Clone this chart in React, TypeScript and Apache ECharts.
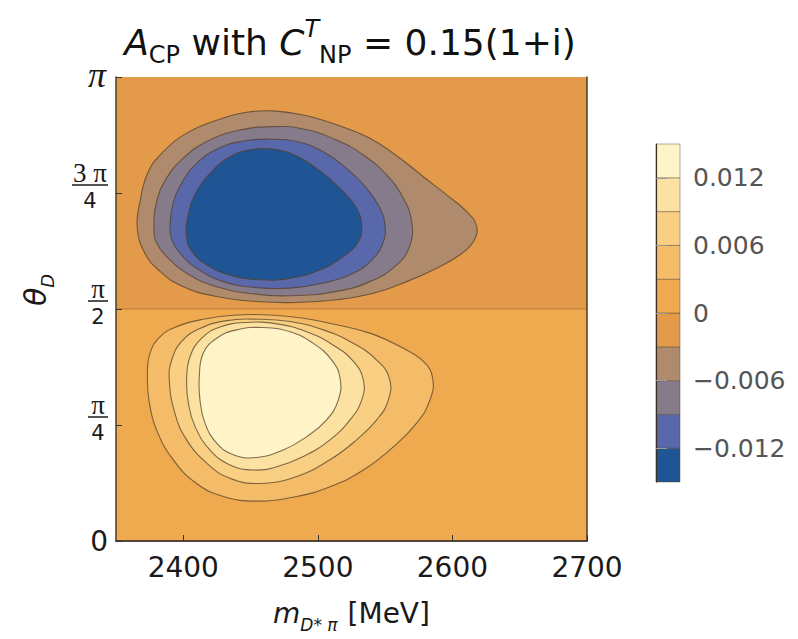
import React, { useEffect, useRef } from "react";
import * as echarts from "echarts";

// ---------- axes ----------
const X_MIN = 2350;
const X_MAX = 2700;
const X_TICKS = [2400, 2500, 2600, 2700];
// θ_D expressed in units of π
const Y_MIN = 0;
const Y_MAX = 1;
const Y_TICKS = [0, 0.25, 0.5, 0.75, 1];
const Y_TICK_NUM = ["0", "π", "π", "3 π", "π"];
const Y_TICK_DEN = ["", "4", "2", "4", ""];

// ---------- colour bar ----------
const LEVELS = [-0.015, -0.012, -0.009, -0.006, -0.003, 0, 0.003, 0.006, 0.009, 0.012, 0.015];
const BAND_COLORS = [
  "#1f5595",
  "#5868ab",
  "#857b8b",
  "#b08a6d",
  "#e39a4a",
  "#efa94f",
  "#f4bc68",
  "#f8cf83",
  "#fbe2a2",
  "#fef4c8",
];
const BAR_TICKS = [-0.012, -0.006, 0, 0.006, 0.012];

// ---------- background halves (band index into BAND_COLORS) ----------
const HALVES = [
  { from: 0.5, to: 1, band: 4 },
  { from: 0, to: 0.5, band: 5 },
];

// ---------- contour lines [m (MeV), θ/π] ----------
const C_NEG_003 = [
  [2365.8, 0.674], [2367.8, 0.731], [2374.0, 0.796], [2385.2, 0.839], [2402.5, 0.879],
  [2424.8, 0.907], [2447.1, 0.924], [2466.9, 0.927], [2489.2, 0.918], [2514.0, 0.897],
  [2538.7, 0.868], [2561.0, 0.825], [2578.4, 0.785], [2595.7, 0.746], [2610.6, 0.710],
  [2618.0, 0.678], [2615.5, 0.645], [2605.6, 0.617], [2588.3, 0.588], [2566.0, 0.559],
  [2541.2, 0.534], [2514.0, 0.520], [2484.3, 0.514], [2454.5, 0.516], [2424.8, 0.527],
  [2400.0, 0.548], [2382.7, 0.581], [2371.5, 0.620],
];
const C_NEG_006 = [
  [2378.2, 0.674], [2380.2, 0.731], [2387.6, 0.782], [2400.0, 0.825], [2417.4, 0.861],
  [2439.7, 0.884], [2464.4, 0.893], [2489.2, 0.888], [2514.0, 0.864], [2533.8, 0.832],
  [2551.1, 0.789], [2563.5, 0.739], [2569.7, 0.688], [2568.5, 0.638], [2558.6, 0.595],
  [2538.7, 0.559], [2514.0, 0.538], [2484.3, 0.529], [2454.5, 0.532], [2424.8, 0.548],
  [2402.5, 0.577], [2387.6, 0.613], [2380.2, 0.642],
];
const C_NEG_009 = [
  [2390.1, 0.674], [2392.1, 0.724], [2398.8, 0.771], [2409.9, 0.814], [2426.0, 0.846],
  [2444.6, 0.862], [2464.4, 0.866], [2484.3, 0.861], [2504.1, 0.839], [2521.4, 0.803],
  [2536.3, 0.760], [2546.2, 0.717], [2549.9, 0.681], [2548.7, 0.645], [2541.2, 0.609],
  [2526.4, 0.577], [2504.1, 0.556], [2479.3, 0.545], [2454.5, 0.546], [2429.8, 0.559],
  [2409.9, 0.588], [2397.6, 0.620], [2391.4, 0.649],
];
const C_NEG_012 = [
  [2402.5, 0.652], [2403.7, 0.703], [2409.9, 0.753], [2421.1, 0.796], [2434.7, 0.828],
  [2449.6, 0.843], [2464.4, 0.845], [2479.3, 0.836], [2499.1, 0.803], [2516.5, 0.760],
  [2528.8, 0.717], [2532.6, 0.678], [2530.1, 0.645], [2518.9, 0.613], [2501.6, 0.584],
  [2479.3, 0.566], [2457.0, 0.563], [2434.7, 0.573], [2417.4, 0.595], [2407.5, 0.620],
];
const C_POS_003 = [
  [2373.3, 0.354], [2375.3, 0.405], [2382.7, 0.440], [2395.1, 0.462], [2414.9, 0.478],
  [2439.7, 0.487], [2464.4, 0.487], [2489.2, 0.480], [2514.0, 0.466], [2538.7, 0.448],
  [2561.0, 0.419], [2578.4, 0.387], [2585.3, 0.351], [2583.3, 0.304], [2573.4, 0.254],
  [2556.1, 0.203], [2533.8, 0.153], [2509.0, 0.117], [2484.3, 0.096], [2454.5, 0.086],
  [2429.8, 0.096], [2409.9, 0.124], [2392.6, 0.175], [2380.2, 0.239], [2374.8, 0.297],
];
const C_POS_006 = [
  [2389.6, 0.347], [2391.4, 0.390], [2398.8, 0.430], [2412.4, 0.458], [2432.2, 0.475],
  [2454.5, 0.478], [2479.3, 0.473], [2504.1, 0.455], [2526.4, 0.426], [2543.7, 0.390],
  [2553.1, 0.351], [2552.4, 0.304], [2543.7, 0.261], [2528.8, 0.218], [2509.0, 0.175],
  [2484.3, 0.139], [2457.0, 0.124], [2434.7, 0.135], [2417.4, 0.168], [2402.5, 0.218],
  [2393.8, 0.275],
];
const C_POS_009 = [
  [2402.5, 0.347], [2405.0, 0.397], [2413.7, 0.437], [2427.3, 0.461], [2447.1, 0.471],
  [2469.4, 0.468], [2491.7, 0.451], [2511.5, 0.422], [2526.4, 0.387], [2533.8, 0.347],
  [2532.6, 0.304], [2523.9, 0.261], [2509.0, 0.218], [2489.2, 0.182], [2469.4, 0.160],
  [2452.0, 0.153], [2434.7, 0.164], [2419.9, 0.196], [2408.7, 0.247], [2403.8, 0.297],
];
const C_POS_012 = [
  [2411.9, 0.354], [2414.9, 0.405], [2424.8, 0.437], [2439.7, 0.455], [2459.5, 0.460],
  [2479.3, 0.451], [2496.6, 0.426], [2510.3, 0.390], [2516.5, 0.351], [2515.2, 0.304],
  [2506.5, 0.261], [2491.7, 0.225], [2474.3, 0.196], [2454.5, 0.180], [2437.2, 0.186],
  [2424.8, 0.211], [2416.1, 0.254], [2412.4, 0.304],
];

// contour + the band index of the region it encloses
const CONTOURS = [
  { pts: C_NEG_003, band: 3 },
  { pts: C_NEG_006, band: 2 },
  { pts: C_NEG_009, band: 1 },
  { pts: C_NEG_012, band: 0 },
  { pts: C_POS_003, band: 6 },
  { pts: C_POS_006, band: 7 },
  { pts: C_POS_009, band: 8 },
  { pts: C_POS_012, band: 9 },
];

const ZERO_LINE = [
  [X_MIN, 0.5],
  [X_MAX, 0.5],
];

const FONT = "DejaVu Sans";
const LINE_COLOR = "rgba(85,65,40,0.75)";
const INK = "#1a1a1a";

export default function App() {
  const ref = useRef<HTMLDivElement>(null);

  useEffect(() => {
    if (!ref.current) return;
    const chart = echarts.init(ref.current, null, { renderer: "svg" });

    const option: any = {
      animation: false,
      backgroundColor: "#ffffff",
      grid: [
        { left: 116, top: 77, width: 471, height: 464, containLabel: false },
        { left: 656, top: 144, width: 24, height: 338, containLabel: false },
      ],
      xAxis: [
        {
          gridIndex: 0,
          type: "value",
          min: X_MIN,
          max: X_MAX,
          z: 10,
          axisLine: { show: true, lineStyle: { color: "#4a3d30", width: 1.5 } },
          axisTick: {
            show: true,
            inside: true,
            length: 6,
            customValues: X_TICKS,
            lineStyle: { color: "#333", width: 1 },
          },
          axisLabel: {
            customValues: X_TICKS,
            formatter: (v: number) => String(v),
            fontFamily: FONT,
            fontSize: 28,
            color: INK,
            margin: 12,
          },
          splitLine: { show: false },
          name: "{i|m}{s|D* π}   {n|[MeV]}",
          nameLocation: "middle",
          nameGap: 58,
          nameTextStyle: {
            rich: {
              i: { fontFamily: FONT, fontStyle: "italic", fontSize: 28, color: INK, lineHeight: 34, verticalAlign: "top" },
              s: { fontFamily: FONT, fontStyle: "italic", fontSize: 17, color: INK, lineHeight: 20, verticalAlign: "bottom" },
              n: { fontFamily: FONT, fontSize: 28, color: INK, lineHeight: 34, verticalAlign: "top" },
            },
          },
        },
        {
          gridIndex: 0,
          type: "value",
          position: "top",
          min: X_MIN,
          max: X_MAX,
          z: 10,
          axisLine: { show: true, lineStyle: { color: "#4a3d30", width: 1.5 } },
          axisTick: { show: false },
          axisLabel: { show: false },
          splitLine: { show: false },
        },
        {
          gridIndex: 1,
          type: "value",
          min: 0,
          max: 1,
          show: false,
        },
      ],
      yAxis: [
        {
          gridIndex: 0,
          type: "value",
          min: Y_MIN,
          max: Y_MAX,
          interval: 0.25,
          z: 10,
          axisLine: { show: true, lineStyle: { color: "#4a3d30", width: 1.5 } },
          axisTick: { show: true, inside: true, length: 6, lineStyle: { color: "#333", width: 1 } },
          splitLine: { show: false },
          axisLabel: {
            margin: 8,
            formatter: (v: number) => {
              const i = Y_TICKS.findIndex((t) => Math.abs(t - v) < 1e-9);
              if (i < 0) return "";
              const num = Y_TICK_NUM[i];
              if (!Y_TICK_DEN[i]) {
                return num === "π" ? `{pi|${num}}` : `{z|${num}}`;
              }
              const bar = num.length > 1 ? "barw" : "bar";
              return `{num|${num}}\n{${bar}| }\n{den|${Y_TICK_DEN[i]}}`;
            },
            rich: {
              pi: { fontFamily: "Liberation Serif", fontStyle: "italic", fontSize: 36, color: INK, padding: [0, 2, 4, 0] },
              z: { fontFamily: FONT, fontSize: 28, color: INK },
              num: { fontFamily: "Liberation Serif", fontSize: 27, color: INK, align: "center", lineHeight: 20 },
              bar: { width: 20, height: 1.5, lineHeight: 4, fontSize: 2, backgroundColor: INK, align: "center" },
              barw: { width: 36, height: 1.5, lineHeight: 4, fontSize: 2, backgroundColor: INK, align: "center" },
              den: { fontFamily: FONT, fontSize: 21, color: INK, align: "center", lineHeight: 36, padding: [0, 0, 8, 0] },
            },
          },
        },
        {
          gridIndex: 0,
          type: "value",
          position: "right",
          min: Y_MIN,
          max: Y_MAX,
          z: 10,
          axisLine: { show: true, lineStyle: { color: "#4a3d30", width: 1.5 } },
          axisTick: { show: false },
          axisLabel: { show: false },
          splitLine: { show: false },
        },
        {
          gridIndex: 1,
          type: "value",
          position: "right",
          min: LEVELS[0],
          max: LEVELS[LEVELS.length - 1],
          z: 10,
          axisLine: { show: true, lineStyle: { color: "#3a2e25", width: 1.2 } },
          axisTick: {
            show: true,
            length: 11,
            customValues: BAR_TICKS,
            lineStyle: { color: "#9a9a9a", width: 1 },
          },
          axisLabel: {
            customValues: BAR_TICKS,
            margin: 13,
            fontFamily: FONT,
            fontSize: 25,
            color: "#555555",
            formatter: (v: number) => {
              if (Math.abs(v) < 1e-12) return "0";
              const s = Math.abs(v).toFixed(3);
              return v < 0 ? "\u2212" + s : s;
            },
          },
          splitLine: { show: false },
        },
      ],
      series: [
        {
          type: "custom",
          name: "background",
          coordinateSystem: "cartesian2d",
          xAxisIndex: 0,
          yAxisIndex: 0,
          silent: true,
          data: HALVES.map((h) => [X_MIN, h.from, X_MAX, h.to]),
          renderItem: (params: any, api: any) => {
            const h = HALVES[params.dataIndex];
            const p0 = api.coord([X_MIN, h.to]);
            const p1 = api.coord([X_MAX, h.from]);
            return {
              type: "rect",
              shape: { x: p0[0], y: p0[1], width: p1[0] - p0[0], height: p1[1] - p0[1] },
              style: { fill: BAND_COLORS[h.band] },
            };
          },
          z: 1,
        },
        {
          type: "line",
          name: "zero",
          xAxisIndex: 0,
          yAxisIndex: 0,
          data: ZERO_LINE,
          symbol: "none",
          silent: true,
          lineStyle: { color: "rgba(150,100,50,0.55)", width: 1 },
          z: 2,
        },
        {
          type: "custom",
          name: "contours",
          coordinateSystem: "cartesian2d",
          xAxisIndex: 0,
          yAxisIndex: 0,
          silent: true,
          data: CONTOURS.map((c) => c.pts[0]),
          renderItem: (params: any, api: any) => {
            const c = CONTOURS[params.dataIndex];
            const points = c.pts.map((p) => api.coord(p));
            return {
              type: "polygon",
              shape: { points, smooth: 0.45 },
              style: { fill: BAND_COLORS[c.band], stroke: LINE_COLOR, lineWidth: 1.1 },
            };
          },
          z: 3,
        },
        {
          type: "custom",
          name: "colorbar",
          coordinateSystem: "cartesian2d",
          xAxisIndex: 2,
          yAxisIndex: 2,
          silent: true,
          data: BAND_COLORS.map((_, i) => [0, LEVELS[i], 1, LEVELS[i + 1]]),
          renderItem: (params: any, api: any) => {
            const i = params.dataIndex;
            const p0 = api.coord([0, LEVELS[i + 1]]);
            const p1 = api.coord([1, LEVELS[i]]);
            return {
              type: "rect",
              shape: { x: p0[0], y: p0[1], width: p1[0] - p0[0], height: p1[1] - p0[1] },
              style: { fill: BAND_COLORS[i], stroke: "rgba(90,65,40,0.55)", lineWidth: 0.8 },
            };
          },
          z: 3,
        },
      ],
      graphic: [
        {
          type: "text",
          x: 350,
          y: 42,
          z: 20,
          style: {
            text: "{it|A}{sub|CP}{n| with }{it|C}{sup|T}{sub|NP}{n| = 0.15(1+i)}",
            align: "center",
            verticalAlign: "middle",
            rich: {
              it: { fontFamily: FONT, fontStyle: "italic", fontSize: 36, fill: "#111", lineHeight: 50 },
              n: { fontFamily: FONT, fontSize: 36, fill: "#111", lineHeight: 50 },
              sub: { fontFamily: FONT, fontSize: 24, fill: "#111", lineHeight: 24, verticalAlign: "bottom" },
              sup: { fontFamily: FONT, fontStyle: "italic", fontSize: 24, fill: "#111", lineHeight: 24, verticalAlign: "top" },
            },
          },
        },
        {
          type: "text",
          x: 38,
          y: 290,
          rotation: Math.PI / 2,
          z: 20,
          style: {
            text: "{i|θ}{s|D}",
            align: "center",
            verticalAlign: "middle",
            rich: {
              i: { fontFamily: FONT, fontStyle: "italic", fontSize: 30, fill: INK, lineHeight: 36, verticalAlign: "top" },
              s: { fontFamily: FONT, fontStyle: "italic", fontSize: 18, fill: INK, lineHeight: 22, verticalAlign: "bottom" },
            },
          },
        },
      ],
    };

    chart.setOption(option);
    return () => {
      chart.dispose();
    };
  }, []);

  return (
    <div
      ref={ref}
      style={{ position: "fixed", left: 0, top: 0, width: 798, height: 639, background: "#fff" }}
    />
  );
}
